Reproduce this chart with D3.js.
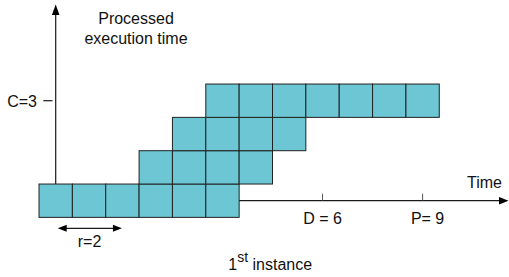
<!DOCTYPE html>
<html>
<head>
<meta charset="utf-8">
<script src="https://cdn.jsdelivr.net/npm/d3@7/dist/d3.min.js"></script>
<style>
  body { margin: 0; background: #fff; }
  text { font-family: "Liberation Sans", Arial, Helvetica, sans-serif; font-size: 16px; fill: #111; }
</style>
</head>
<body>
<svg width="509" height="277"></svg>
<script>
// rows of processed execution (level 0 = bottom row)
const rowLevels = [0, 1, 2, 3];
const rowFirst  = [0, 3, 4, 5];   // first time slot of each row
const rowLast   = [5, 6, 7, 11];  // last time slot of each row

const releaseTime = 2;
const timeTicks = [8, 11];
const timeTickLabels = ["D = 6", "P= 9"];
const wcetLevel = 3;
const wcetLabel = "C=3";

const svg = d3.select("svg");

const x = d3.scaleLinear().domain([0, 11]).range([55.7, 422.6]);
const y = d3.scaleLinear().domain([0, 3]).range([200.7, 100.7]);

const cells = [];
rowLevels.forEach((lv, i) => {
    d3.range(rowFirst[i], rowLast[i] + 1).forEach(t => cells.push({ t: t, lv: lv }));
});

// axes (behind the cells)
const axisColor = "#1a1a1a";
svg.append("line")
    .attr("x1", x(0)).attr("x2", 500)
    .attr("y1", y(0)).attr("y2", y(0))
    .style("stroke", axisColor).style("stroke-width", 1.2);
svg.append("path")
    .attr("d", `M508.5,${y(0)} L499,${y(0) - 3.8} L499,${y(0) + 3.8} Z`)
    .style("fill", "#000");

svg.append("line")
    .attr("x1", x(0)).attr("x2", x(0))
    .attr("y1", 14).attr("y2", y(0))
    .style("stroke", axisColor).style("stroke-width", 1.2);
svg.append("path")
    .attr("d", `M${x(0)},4.5 L${x(0) - 3.8},15 L${x(0) + 3.8},15 Z`)
    .style("fill", "#000");

// time ticks
svg.selectAll(".tick")
    .data(timeTicks)
    .join("line")
    .attr("class", "tick")
    .attr("x1", d => x(d)).attr("x2", d => x(d))
    .attr("y1", y(0) - 7).attr("y2", y(0))
    .style("stroke", "#555").style("stroke-width", 1);

svg.selectAll(".ticklabel")
    .data(timeTicks)
    .join("text")
    .attr("class", "ticklabel")
    .attr("x", (d, i) => x(d) + (i === 1 ? 5 : 0))
    .attr("y", 224)
    .attr("text-anchor", "middle")
    .text((d, i) => timeTickLabels[i]);

// execution cells
svg.selectAll(".cell")
    .data(cells)
    .join("rect")
    .attr("class", "cell")
    .attr("x", d => x(d.t - 0.5))
    .attr("y", d => y(d.lv + 0.5))
    .attr("width", x(1) - x(0))
    .attr("height", y(0) - y(1))
    .style("fill", "#6cc6d3")
    .style("stroke", "#222")
    .style("stroke-width", 1);

// C tick and label
svg.append("line")
    .attr("x1", 43.3).attr("x2", 52.5)
    .attr("y1", y(wcetLevel)).attr("y2", y(wcetLevel))
    .style("stroke", axisColor).style("stroke-width", 1.2);
svg.append("text")
    .attr("x", 37).attr("y", y(wcetLevel) + 6.5)
    .attr("text-anchor", "end")
    .text(wcetLabel);

// release arrow
const ay = 228.3;
svg.append("line")
    .attr("x1", x(0) + 8).attr("x2", x(releaseTime) - 8)
    .attr("y1", ay).attr("y2", ay)
    .style("stroke", axisColor).style("stroke-width", 1.2);
svg.append("path")
    .attr("d", `M${x(0) + 2},${ay} L${x(0) + 11},${ay - 3.5} L${x(0) + 11},${ay + 3.5} Z`)
    .style("fill", "#000");
svg.append("path")
    .attr("d", `M${x(releaseTime) - 0.5},${ay} L${x(releaseTime) - 9.5},${ay - 3.5} L${x(releaseTime) - 9.5},${ay + 3.5} Z`)
    .style("fill", "#000");
svg.append("text")
    .attr("x", (x(0) + x(releaseTime)) / 2 + 0.5).attr("y", 247.3)
    .attr("text-anchor", "middle")
    .text("r=" + releaseTime);

// titles
svg.append("text").attr("x", 136).attr("y", 24).attr("text-anchor", "middle").text("Processed");
svg.append("text").attr("x", 136).attr("y", 44).attr("text-anchor", "middle").text("execution time");
svg.append("text").attr("x", 502).attr("y", 188).attr("text-anchor", "end").text("Time");

const inst = svg.append("text").attr("x", 228.3).attr("y", 270);
inst.append("tspan").text("1");
inst.append("tspan").attr("dy", -8).style("font-size", "14px").text("st");
inst.append("tspan").attr("dy", 8).text(" instance");
</script>
</body>
</html>
